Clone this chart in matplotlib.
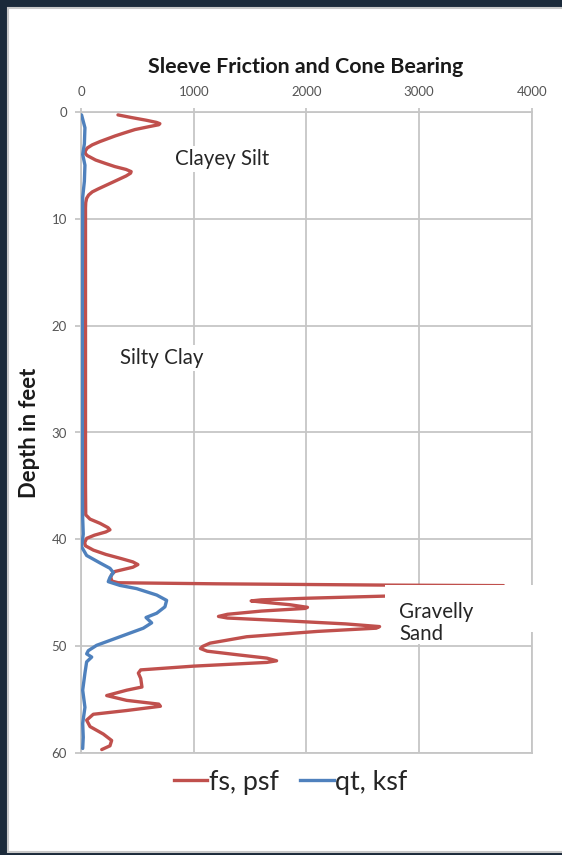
import matplotlib
matplotlib.use("Agg")
import matplotlib.pyplot as plt
from matplotlib.patches import Rectangle
from matplotlib.lines import Line2D

plt.rcParams['font.family'] = ['Lato', 'DejaVu Sans']

# sleeve friction fs (psf) against depth (ft)
fs_depth = [0.3, 0.55, 0.8, 1.0, 1.12, 1.22, 1.38, 1.67, 2.0, 2.27, 2.79, 3.1, 3.4, 3.68, 3.9,
            4.1, 4.52, 4.85, 5.13, 5.4, 5.6, 5.75, 6.01, 6.58, 7.23, 7.5, 7.79, 8.1, 8.5, 9.0,
            15.0, 25.0, 35.0, 37.7, 38.1, 38.5, 38.9, 39.1, 39.3,
            39.6, 39.9, 40.3, 40.6, 41.0, 41.4, 41.8, 42.1, 42.35, 42.6, 42.8, 43.0, 43.3, 43.6,
            43.9, 44.05, 44.15, 44.27, 44.32, 44.5, 45.0, 45.3, 45.5, 45.65, 45.75, 45.85, 46.1,
            46.35, 46.45, 46.7, 47.0, 47.2, 47.35, 47.6, 47.9, 48.15, 48.3, 48.6, 49.1, 49.7,
            50.0, 50.2, 50.45, 50.8, 51.1, 51.35, 51.5, 51.85, 52.2, 52.5, 53.0, 53.8, 54.1,
            54.6, 55.05, 55.4, 55.6, 56.0, 56.35, 56.9, 57.5, 58.2, 58.8, 59.3, 59.65]
fs_psf = [328, 450, 580, 670, 700, 690, 612, 479, 380, 302, 169, 100, 55, 38, 38,
          55, 130, 220, 300, 400, 445, 440, 400, 284, 151, 100, 68, 50, 42, 40,
          40, 40, 40, 42, 80, 170, 240, 257, 220,
          120, 50, 32, 40, 110, 220, 360, 460, 505, 460, 380, 300, 270, 265,
          275, 330, 1200, 2700, 3750, 3650, 3100, 2700, 2000, 1600, 1510, 1600, 1850,
          2010, 1990, 1600, 1300, 1220, 1300, 1800, 2350, 2650, 2620, 2100, 1470, 1145,
          1080, 1060, 1120, 1400, 1650, 1736, 1650, 997, 530, 509, 530, 541, 405,
          228, 405, 690, 705, 405, 109, 50, 80, 198, 272, 257, 184]

# cone bearing qt (ksf) against depth (ft)
qt_depth = [0.3, 1.5, 3.0, 4.0, 5.0, 6.5, 8.0, 9.5, 15.0, 25.0, 35.0, 38.0, 39.5, 40.7,
            41.5, 42.2, 42.7, 43.1, 43.55, 43.95, 44.3, 44.6, 45.2, 45.7, 46.3, 46.9, 47.3,
            47.8, 48.3, 49.1, 49.9, 50.4, 50.7, 51.0, 51.45, 52.5, 54.1, 55.7, 57.2, 58.5, 59.55]
qt_ksf = [5, 35, 30, 15, 35, 30, 15, 15, 12, 12, 12, 15, 20, 6,
          50, 169, 257, 287, 257, 242, 346, 494, 672, 760, 745, 672, 577,
          627, 553, 346, 139, 65, 50, 95, 50, 35, 15, 35, 15, 20, 15]

x_ticks = [0, 1000, 2000, 3000, 4000]
y_ticks = [0, 10, 20, 30, 40, 50, 60]

red = '#c0504d'
blue = '#4f81bd'
grid_c = '#c6c6c6'

fig = plt.figure(figsize=(5.62, 8.55), dpi=100, facecolor='#1b2a3a')
# white chart area inside the dark frame
fig.patches.append(Rectangle((8 / 562, 3 / 855), 1, (844 / 855), transform=fig.transFigure,
                             facecolor='white', edgecolor='#c8c8c8', lw=1.5, zorder=-10))

ax = fig.add_axes([81 / 562, 1 - 753.3 / 855, 450.7 / 562, 641.6 / 855])
ax.set_facecolor('none')

ax.plot(fs_psf, fs_depth, color=red, lw=2.4, solid_capstyle='round', solid_joinstyle='round', zorder=3)
ax.plot(qt_ksf, qt_depth, color=blue, lw=2.4, solid_capstyle='round', solid_joinstyle='round', zorder=3)

ax.set_xlim(0, 4000)
ax.set_ylim(60, 0)
ax.set_xticks(x_ticks)
ax.set_yticks(y_ticks)
ax.xaxis.tick_top()
ax.grid(True, color=grid_c, lw=1.3)
for s in ax.spines.values():
    s.set_color(grid_c)
    s.set_linewidth(1.3)
ax.tick_params(axis='x', colors=grid_c, labelcolor='#555555', labelsize=9.5, length=3, pad=7, width=1.3)
ax.tick_params(axis='y', colors=grid_c, labelcolor='#555555', labelsize=9.5, length=4, pad=6, width=1.3)

# soil layer labels (white boxes hide the grid behind them)
box = dict(facecolor='white', edgecolor='none', pad=2)
ax.text(1250, 4.4, 'Clayey Silt', fontsize=14.8, ha='center', va='center', color='#262626', bbox=box, zorder=5)
ax.text(716, 23.0, 'Silty Clay', fontsize=14.8, ha='center', va='center', color='#262626', bbox=box, zorder=5)
ax.add_patch(Rectangle((2697, 44.27), 1450, 4.35, facecolor='white', edgecolor='none',
                       zorder=4, clip_on=False))
ax.text(2822, 47.8, 'Gravelly\nSand', fontsize=14.8, ha='left', va='center', color='#262626',
        linespacing=1.15, bbox=dict(facecolor='white', edgecolor='none', pad=0), zorder=5)

fig.text(305.5 / 562, 1 - 72.7 / 855, 'Sleeve Friction and Cone Bearing', fontsize=15.4,
         fontweight='bold', ha='center', va='baseline', color='#1a1a1a')
fig.text(30 / 562, 1 - 432.5 / 855, 'Depth in feet', fontsize=15.8, fontweight='bold',
         rotation=90, ha='center', va='center', color='#1a1a1a')

handles = [Line2D([], [], color=red, lw=2.4), Line2D([], [], color=blue, lw=2.4)]
fig.legend(handles, ['fs, psf', 'qt, ksf'], loc='center', bbox_to_anchor=(290.5 / 562, 1 - 782 / 855),
           ncol=2, frameon=False, fontsize=19.4, handlelength=1.25, handletextpad=0.05,
           columnspacing=0.8, labelcolor='#262626')

fig.savefig('out.png', dpi=100, facecolor=fig.get_facecolor())
